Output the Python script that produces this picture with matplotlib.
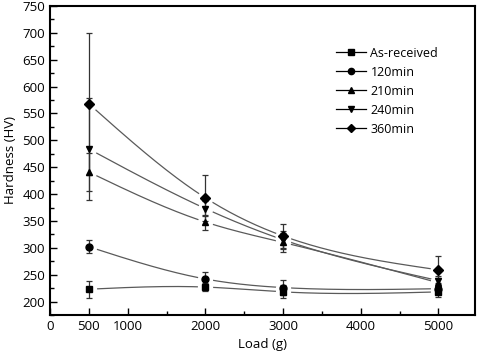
import numpy as np
import matplotlib
matplotlib.use('Agg')
import matplotlib.pyplot as plt

plt.rcParams['font.family'] = ['Open Sans', 'DejaVu Sans']

# Data
loads = [500, 2000, 3000, 5000]
series = ['As-received', '120min', '210min', '240min', '360min']
markers = ['s', 'o', '^', 'v', 'D']
hardness = {
    'As-received': [223, 227, 218, 218],
    '120min': [302, 242, 226, 224],
    '210min': [441, 348, 310, 235],
    '240min': [484, 373, 315, 239],
    '360min': [568, 393, 322, 259],
}
errors = {
    'As-received': [16, 8, 12, 9],
    '120min': [12, 13, 14, 8],
    '210min': [35, 14, 17, 8],
    '240min': [95, 14, 17, 8],
    '360min': [132, 43, 22, 25],
}


def spline(x, y, n=200):
    # natural cubic spline for smooth connecting lines
    x = np.asarray(x, float)
    y = np.asarray(y, float)
    k = len(x)
    h = np.diff(x)
    A = np.zeros((k, k))
    b = np.zeros(k)
    A[0, 0] = A[-1, -1] = 1
    for i in range(1, k - 1):
        A[i, i - 1] = h[i - 1]
        A[i, i] = 2 * (h[i - 1] + h[i])
        A[i, i + 1] = h[i]
        b[i] = 6 * ((y[i + 1] - y[i]) / h[i] - (y[i] - y[i - 1]) / h[i - 1])
    M = np.linalg.solve(A, b)
    xs = np.linspace(x[0], x[-1], n)
    idx = np.clip(np.searchsorted(x, xs) - 1, 0, k - 2)
    x0, x1 = x[idx], x[idx + 1]
    hh = x1 - x0
    t0, t1 = x1 - xs, xs - x0
    ys = (M[idx] * t0**3 + M[idx + 1] * t1**3) / (6 * hh) \
        + (y[idx] / hh - M[idx] * hh / 6) * t0 + (y[idx + 1] / hh - M[idx + 1] * hh / 6) * t1
    return xs, ys


fig = plt.figure(figsize=(4.78, 3.54), dpi=100)
ax = fig.add_axes([50 / 478, 1 - 315 / 354, 425 / 478, 309 / 354])

for name, m in zip(series, markers):
    xs, ys = spline(loads, hardness[name])
    ax.plot(xs, ys, color='#5a5a5a', lw=0.9, zorder=2)
    ms = 5.5 if m == 'D' else 5
    # white halo: gap in the line around each marker
    ax.plot(loads, hardness[name], linestyle='none', marker='o', color='white',
            markersize=ms + 5, zorder=2.5)
    ax.errorbar(loads, hardness[name], yerr=errors[name], fmt='none',
                ecolor='#333333', elinewidth=0.9, capsize=2.5, capthick=0.9, zorder=3)
    ax.plot(loads, hardness[name], linestyle='none', marker=m, color='black',
            markersize=ms, zorder=4)
    # legend proxy
    ax.plot([], [], color='black', lw=0.9, marker=m, markersize=4.5, label=name)

ax.set_xlim(0, 5470)
ax.set_ylim(175, 750)
ax.set_xticks([0, 500, 1000, 2000, 3000, 4000, 5000])
ax.set_xticks([1500, 2500, 3500, 4500], minor=True)
ax.set_yticks(np.arange(200, 751, 50))
ax.set_yticks(np.arange(175, 751, 25), minor=True)
ax.tick_params(direction='in', which='major', length=5, width=1, labelsize=9.5)
ax.tick_params(direction='in', which='minor', length=3, width=1)
for s in ax.spines.values():
    s.set_linewidth(1.5)

ax.set_xlabel('Load (g)', fontsize=9.5, labelpad=4)
ax.set_ylabel('Hardness (HV)', fontsize=9.5, labelpad=4)

leg = ax.legend(loc='upper right', bbox_to_anchor=(0.94, 0.905), frameon=False,
                fontsize=9, handlelength=2.4, labelspacing=0.48, handletextpad=0.4)

fig.savefig('out.png', dpi=100)
